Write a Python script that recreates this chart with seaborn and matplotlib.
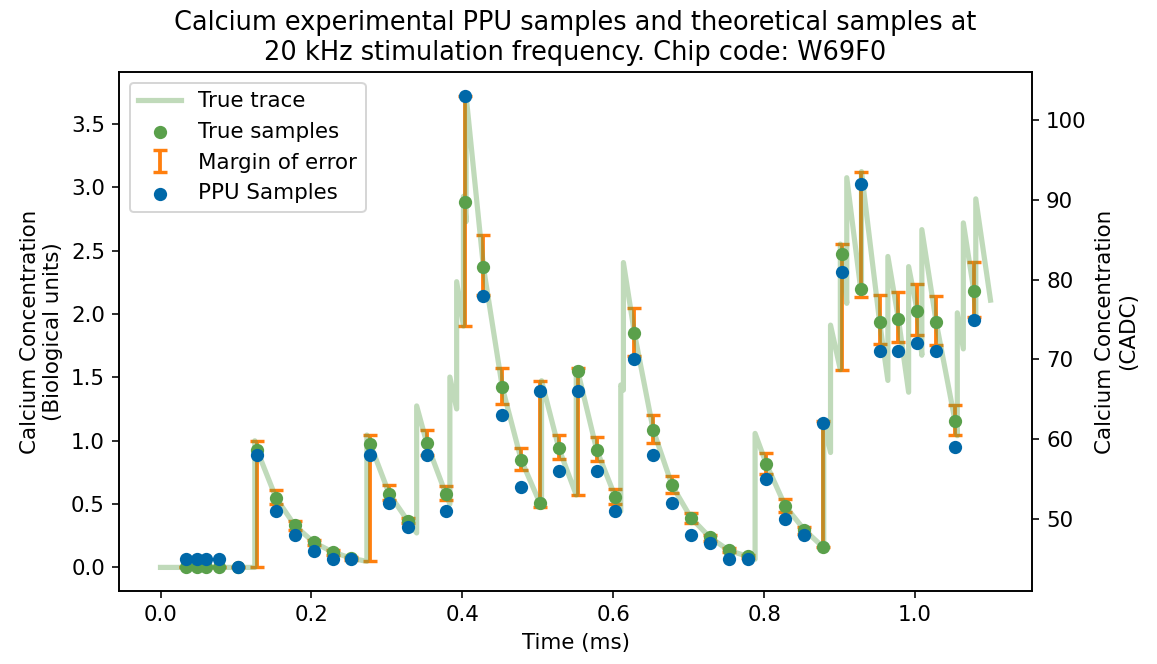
import numpy as np
import matplotlib
matplotlib.use("Agg")
import matplotlib.pyplot as plt
import seaborn as sns

# ---------------- data ----------------
trace_t = [0.0, 0.125, 0.125, 0.128, 0.153, 0.178, 0.203, 0.228, 0.253, 0.2735,
           0.2735, 0.278, 0.303, 0.328, 0.3395, 0.3395, 0.353, 0.378, 0.3835, 0.3835,
           0.3925, 0.3925, 0.4015, 0.4015, 0.403, 0.405, 0.405, 0.428, 0.453, 0.478,
           0.503, 0.505, 0.505, 0.528, 0.551, 0.551, 0.553, 0.578, 0.603, 0.610,
           0.610, 0.6135, 0.6135, 0.628, 0.653, 0.678, 0.703, 0.728, 0.753, 0.778,
           0.788, 0.788, 0.803, 0.828, 0.853, 0.878, 0.879, 0.879, 0.888, 0.888,
           0.901, 0.901, 0.903, 0.9095, 0.9095, 0.928, 0.929, 0.929, 0.953, 0.964,
           0.964, 0.978, 0.9915, 0.9915, 1.003, 1.009, 1.009, 1.028, 1.053, 1.056,
           1.056, 1.064, 1.064, 1.078, 1.0805, 1.0805, 1.1]
trace_v = [0.0, 0.0, 1.0, 0.926, 0.55, 0.331, 0.198, 0.122, 0.072, 0.048,
           1.045, 0.974, 0.582, 0.365, 0.272, 1.275, 0.979, 0.582, 0.50, 1.503,
           1.251, 2.256, 1.905, 2.93, 2.883, 2.73, 3.725, 2.371, 1.421, 0.849,
           0.505, 0.476, 1.474, 0.939, 0.571, 1.574, 1.55, 0.929, 0.553, 0.444,
           1.44, 1.40, 2.407, 1.852, 1.085, 0.648, 0.392, 0.238, 0.135, 0.087,
           0.065, 1.058, 0.815, 0.484, 0.299, 0.161, 0.16, 1.159, 0.907, 1.913,
           1.561, 2.553, 2.471, 2.085, 3.077, 2.196, 2.17, 3.125, 1.939, 1.476,
           2.455, 1.96, 1.383, 2.375, 2.021, 1.675, 2.667, 1.937, 1.156, 1.04,
           2.01, 1.725, 2.72, 2.18, 1.97, 2.91, 2.11]

sample_t = [0.034, 0.049, 0.060, 0.078, 0.103, 0.128, 0.153, 0.178, 0.203, 0.228,
            0.253, 0.278, 0.303, 0.328, 0.353, 0.378, 0.403, 0.428, 0.453, 0.478,
            0.503, 0.528, 0.553, 0.578, 0.603, 0.628, 0.653, 0.678, 0.703, 0.728,
            0.753, 0.778, 0.803, 0.828, 0.853, 0.878, 0.903, 0.928, 0.953, 0.978,
            1.003, 1.028, 1.053, 1.078]
true_samples = [0.0, 0.0, 0.0, 0.0, 0.0, 0.926, 0.55, 0.331, 0.198, 0.122,
                0.072, 0.974, 0.582, 0.365, 0.979, 0.582, 2.883, 2.371, 1.421, 0.849,
                0.505, 0.939, 1.55, 0.929, 0.553, 1.852, 1.085, 0.648, 0.392, 0.238,
                0.135, 0.087, 0.815, 0.484, 0.299, 0.161, 2.471, 2.196, 1.939, 1.96,
                2.021, 1.937, 1.156, 2.18]
ppu_cadc = [45, 45, 45, 45, 44, 58, 51, 48, 46, 45,
            45, 58, 52, 49, 58, 51, 103, 78, 63, 54,
            66, 56, 66, 56, 51, 70, 58, 52, 48, 47,
            45, 45, 55, 50, 48, 62, 81, 92, 71, 71,
            72, 71, 59, 75]
err_low = [0.0, 0.0, 0.0, 0.0, 0.0, 0.0, 0.497, 0.299, 0.175, 0.10,
           0.06, 0.048, 0.532, 0.35, 0.889, 0.529, 1.905, 2.15, 1.288, 0.77,
           0.476, 0.854, 0.571, 0.841, 0.502, 1.672, 0.984, 0.587, 0.352, 0.212,
           0.12, 0.075, 0.735, 0.439, 0.267, 0.161, 1.561, 2.137, 1.762, 1.778,
           1.833, 1.757, 1.048, 1.979]
err_high = [0.0, 0.0, 0.0, 0.0, 0.0, 1.0, 0.608, 0.365, 0.22, 0.14,
            0.08, 1.045, 0.648, 0.387, 1.085, 0.643, 3.725, 2.627, 1.574, 0.942,
            1.474, 1.042, 1.574, 1.026, 0.616, 2.05, 1.206, 0.72, 0.429, 0.259,
            0.15, 0.10, 0.902, 0.537, 0.32, 1.159, 2.553, 3.125, 2.151, 2.172,
            2.241, 2.146, 1.283, 2.415]

title = ("Calcium experimental PPU samples and theoretical samples at\n"
         "20 kHz stimulation frequency. Chip code: W69F0")

GREEN = "#5aa04b"
BLUE = "#0068a8"
ORANGE = "#ff7f0e"

plt.rcParams["font.size"] = 10.7

# ---------------- figure ----------------
W, H, DPI = 1157, 664, 144
fig = plt.figure(figsize=(W / DPI, H / DPI), dpi=DPI)
ax = fig.add_axes([119 / W, 1 - 591 / H, (1032 - 119) / W, (591 - 72) / H])
ax2 = ax.twinx()

ts = np.array(true_samples)
lo = np.clip(ts - np.array(err_low), 0, None)
hi = np.clip(np.array(err_high) - ts, 0, None)

ax.errorbar(sample_t, true_samples, yerr=[lo, hi], fmt="none", ecolor=ORANGE,
            elinewidth=1.9, capsize=3.4, capthick=1.7, zorder=2,
            label="Margin of error")
sns.lineplot(x=trace_t, y=trace_v, ax=ax, estimator=None, sort=False,
             color=GREEN, alpha=0.38, linewidth=2.6, zorder=3, label="True trace")
sns.scatterplot(x=sample_t, y=true_samples, ax=ax, color=GREEN, s=44,
                linewidth=0, zorder=4, label="True samples")
sns.scatterplot(x=sample_t, y=ppu_cadc, ax=ax2, color=BLUE, s=44,
                linewidth=0, zorder=4, label="PPU Samples")

for a in (ax, ax2):
    lg = a.get_legend()
    if lg is not None:
        lg.remove()

ax.set_xlim(-0.055, 1.155)
ax.set_ylim(-0.18625, 3.91125)
ax2.set_ylim(41.05, 105.95)

ax.set_xlabel("Time (ms)")
ax.set_ylabel("Calcium Concentration\n(Biological units)")
ax2.set_ylabel("Calcium Concentration\n(CADC)")
ax.set_title(title, fontsize=12.8)

h1, l1 = ax.get_legend_handles_labels()
h2, l2 = ax2.get_legend_handles_labels()
order = ["True trace", "True samples", "Margin of error", "PPU Samples"]
hmap = dict(zip(l1 + l2, h1 + h2))
ax2.legend([hmap[k] for k in order], order, loc="upper left")

fig.savefig("out.png", dpi=DPI)
